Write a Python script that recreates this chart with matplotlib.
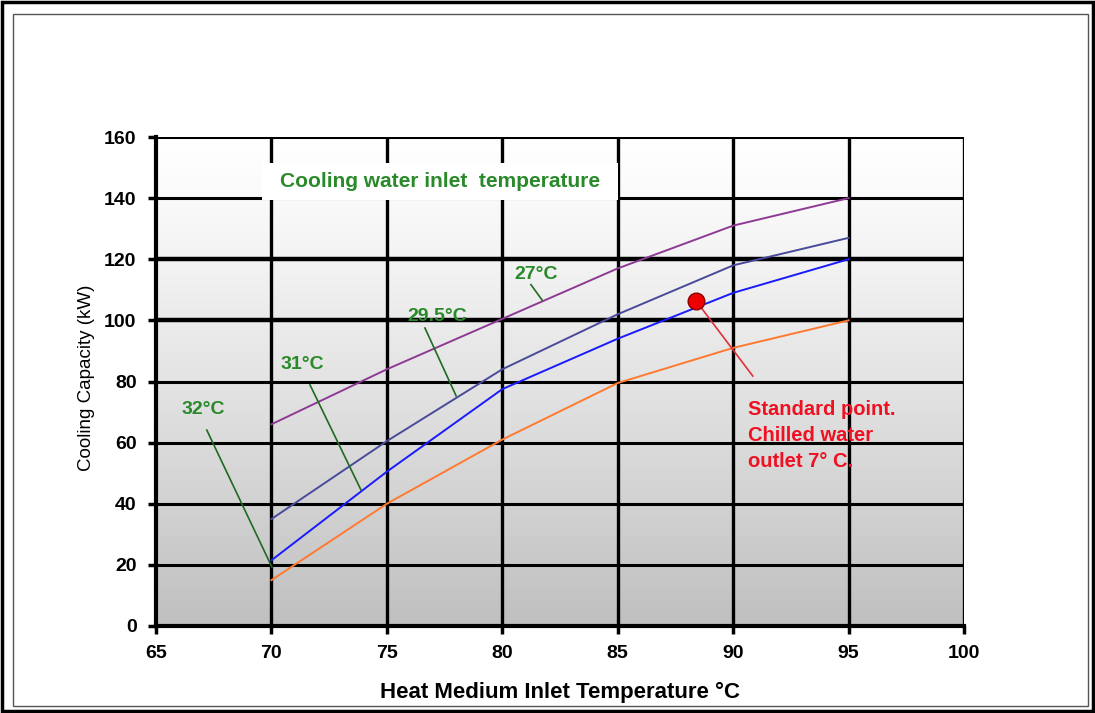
import numpy as np
import matplotlib
matplotlib.use("Agg")
import matplotlib.pyplot as plt
from matplotlib.patches import Rectangle

plt.rcParams['font.family'] = ['Liberation Sans', 'DejaVu Sans']

# ---- data ----
heat_temp = [70, 75, 80, 85, 90, 95]
cap_27 = [66, 84, 100.5, 117, 131, 140]
cap_29_5 = [35, 60.5, 84, 102, 118, 127]
cap_31 = [21.5, 50.5, 77.5, 94, 109, 120]
cap_32 = [15, 40, 61, 79.5, 91, 100]
curve_labels = ["27°C", "29.5°C", "31°C", "32°C"]
x_ticks = [65, 70, 75, 80, 85, 90, 95, 100]
y_ticks = [0, 20, 40, 60, 80, 100, 120, 140, 160]
std_point = (88.4, 106.3)

fig = plt.figure(figsize=(10.95, 7.13), dpi=100)
# frames around the figure
fig.patches.append(Rectangle((0.002, 0.003), 0.996, 0.994, transform=fig.transFigure,
                             fill=False, edgecolor='black', linewidth=2.5))
fig.patches.append(Rectangle((13/1095, 1-706/713), (1088-13)/1095, (706-14)/713,
                             transform=fig.transFigure, fill=False, edgecolor='#555555', linewidth=1))

ax = fig.add_axes([156/1095, 1-626/713, (964-156)/1095, (626-137)/713])

# gradient background (white at top, grey at bottom)
grad = np.linspace(0, 1, 256).reshape(-1, 1)
vals = 1.0 - 0.25 * grad ** 1.2
img = np.dstack([vals, vals, vals])
ax.imshow(img, extent=[65, 100, 0, 160], aspect='auto', zorder=0, origin='upper')
ax.set_xlim(65, 100)
ax.set_ylim(0, 160)

# grid
for y in y_ticks[1:]:
    lw = 3.2 if y in (100, 120) else 2.2
    ax.axhline(y, color='black', lw=lw, zorder=1)
for x in x_ticks[1:]:
    ax.axvline(x, color='black', lw=2.4, zorder=1)

# curves
ax.plot(heat_temp, cap_27, color='#8e3a95', lw=1.4, zorder=3)
ax.plot(heat_temp, cap_29_5, color='#4a4a9a', lw=1.4, zorder=3)
ax.plot(heat_temp, cap_31, color='#1a1aff', lw=1.4, zorder=3)
ax.plot(heat_temp, cap_32, color='#ff7a30', lw=1.4, zorder=3)

green = '#2a8a2a'
lead = '#1f6a1f'
lab_fs = 14
label_pos = [(81.46, 114.9), (77.2, 101.4), (71.32, 85.7), (67.04, 71.0)]
leader_from = [(81.24, 111.7), (76.65, 97.5), (71.67, 78.9), (67.2, 64.1)]
leader_to = [(81.72, 106.7), (78.0, 75.3), (73.88, 44.5), (70.02, 19.3)]
for txt, (lx, ly), (ax0, ay0), (ax1, ay1) in zip(curve_labels, label_pos, leader_from, leader_to):
    ax.text(lx, ly, txt, color=green, fontsize=lab_fs, fontweight='bold',
            ha='center', va='center', zorder=5)
    ax.plot([ax0, ax1], [ay0, ay1], color=lead, lw=1.2, zorder=5)

# title box
ax.add_patch(Rectangle((69.6, 139.4), 85.0 - 69.6, 151.5 - 139.4, facecolor='white',
                       edgecolor='none', zorder=5))
ax.text(77.3, 145.6, "Cooling water inlet  temperature", color=green, fontsize=15,
        fontweight='bold', ha='center', va='center', zorder=6)

# standard point
ax.plot([std_point[0], 90.85], [std_point[1], 81.8], color='#e0303a', lw=1.2, zorder=4)
ax.plot(*std_point, 'o', markersize=12, markerfacecolor='#ee0000', markeredgecolor='#8b0000',
        markeredgewidth=1, zorder=6)
ax.text(90.64, 62.2, "Standard point.\nChilled water\noutlet 7° C.", color='#ee1122',
        fontsize=14.5, fontweight='bold', ha='left', va='center', linespacing=1.47, zorder=6)

# axes styling
for side in ('top', 'right'):
    ax.spines[side].set_visible(False)
ax.spines['left'].set_linewidth(3)
ax.spines['bottom'].set_linewidth(3)
ax.set_xticks(x_ticks)
ax.set_yticks(y_ticks)
ax.tick_params(axis='both', direction='out', width=2.5, length=6, labelsize=14, pad=8)
for lab in ax.get_xticklabels() + ax.get_yticklabels():
    lab.set_fontweight('bold')
ax.set_xlabel("Heat Medium Inlet Temperature °C", fontsize=16, fontweight='bold', labelpad=14)
ax.set_ylabel("Cooling Capacity (kW)", fontsize=13.5)
ax.yaxis.set_label_coords(-0.076, 0.507)

fig.savefig("out.png", dpi=100)
